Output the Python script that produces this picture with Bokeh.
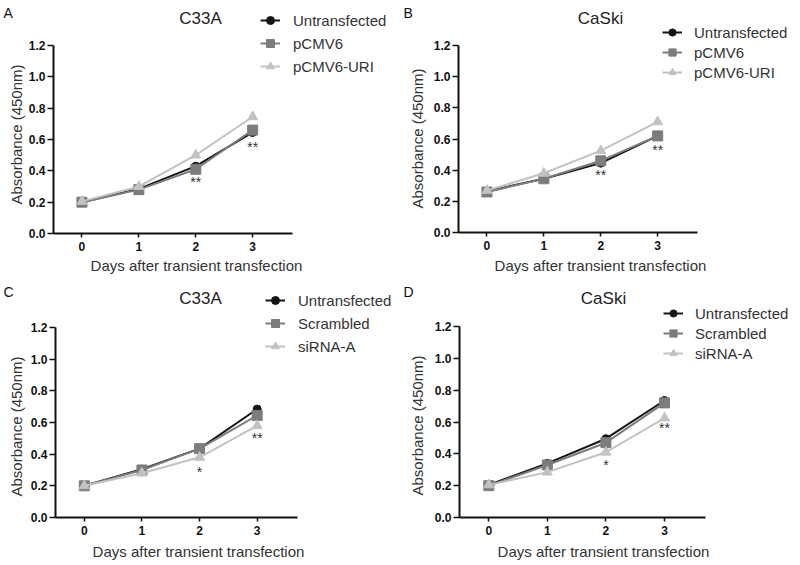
import math
from bokeh.plotting import figure
from bokeh.layouts import gridplot
from bokeh.models import (Label, Legend, LegendItem, ColumnDataSource, FixedTicker,
                          Range1d, CustomJSTickFormatter)
from bokeh.embed import file_html
from bokeh.resources import INLINE
from bokeh.core.properties import value

FONT = "Liberation Sans"

days = [0, 1, 2, 3]
x_ticks = [0, 1, 2, 3]
y_ticks = [0.0, 0.2, 0.4, 0.6, 0.8, 1.0, 1.2]
X_BOUNDS = (-0.5, 3.7)
Y_BOUNDS = (0.0, 1.2)
x_axis_label = "Days after transient transfection"
y_axis_label = "Absorbance (450nm)"

# Panel A: C33A, overexpression
a_labels = ["Untransfected", "pCMV6", "pCMV6-URI"]
a_untransfected = [0.20, 0.285, 0.43, 0.645]
a_pcmv6 = [0.20, 0.28, 0.41, 0.66]
a_pcmv6_uri = [0.205, 0.30, 0.50, 0.745]
a_star_x = [2, 3]
a_star_y = [0.33, 0.55]
a_star_text = ["**", "**"]

# Panel B: CaSki, overexpression
b_labels = ["Untransfected", "pCMV6", "pCMV6-URI"]
b_untransfected = [0.265, 0.345, 0.445, 0.62]
b_pcmv6 = [0.26, 0.345, 0.46, 0.62]
b_pcmv6_uri = [0.27, 0.38, 0.525, 0.71]
b_star_x = [2, 3]
b_star_y = [0.37, 0.53]
b_star_text = ["**", "**"]

# Panel C: C33A, knockdown
c_labels = ["Untransfected", "Scrambled", "siRNA-A"]
c_untransfected = [0.20, 0.305, 0.435, 0.685]
c_scrambled = [0.20, 0.30, 0.435, 0.645]
c_sirna = [0.20, 0.28, 0.38, 0.58]
c_star_x = [2, 3]
c_star_y = [0.29, 0.50]
c_star_text = ["*", "**"]

# Panel D: CaSki, knockdown
d_labels = ["Untransfected", "Scrambled", "siRNA-A"]
d_untransfected = [0.205, 0.34, 0.495, 0.735]
d_scrambled = [0.20, 0.33, 0.47, 0.72]
d_sirna = [0.205, 0.285, 0.41, 0.625]
d_star_x = [2, 3]
d_star_y = [0.33, 0.56]
d_star_text = ["*", "**"]

COLORS = ["#141414", "#7c7c7c", "#c2c2c2"]
MARKERS = ["circle", "square", "triangle"]
SIZES = [8, 10, 10]


def make_panel(letter, title, labels, series, star_x, star_y, star_text, geo):
    W, H = geo["size"]
    axL, axR, yT, yB = geo["frame"]
    # pixel geometry -> range ends, so that axis bounds land where they should
    ux = (axR - axL) / (X_BOUNDS[1] - X_BOUNDS[0])
    uy = (yB - yT) / (Y_BOUNDS[1] - Y_BOUNDS[0])
    xr = Range1d(X_BOUNDS[0] - axL / ux, X_BOUNDS[0] + (W - axL) / ux)
    yr = Range1d(Y_BOUNDS[0] - (H - yB) / uy, Y_BOUNDS[1] + yT / uy)

    p = figure(width=W, height=H, output_backend="svg", toolbar_location=None,
               x_range=xr, y_range=yr, title=None,
               min_border_left=0, min_border_right=0,
               min_border_top=0, min_border_bottom=0)
    p.outline_line_color = None
    p.xgrid.visible = False
    p.ygrid.visible = False
    p.background_fill_color = "white"

    for ax in (p.xaxis[0], p.yaxis[0]):
        ax.axis_line_width = 2
        ax.axis_line_color = "#111111"
        ax.major_tick_line_color = "#111111"
        ax.major_tick_line_width = 1.5
        ax.major_tick_in = 0
        ax.minor_tick_line_color = None
        ax.major_label_text_font = FONT
        ax.major_label_text_font_style = "bold"
        ax.major_label_text_font_size = "12px"
        ax.major_label_text_color = "#111111"

    p.xaxis.fixed_location = Y_BOUNDS[0]
    p.yaxis.fixed_location = X_BOUNDS[0]
    p.xaxis.bounds = X_BOUNDS
    p.yaxis.bounds = Y_BOUNDS
    p.xaxis.ticker = FixedTicker(ticks=x_ticks)
    p.yaxis.ticker = FixedTicker(ticks=y_ticks)
    p.yaxis.formatter = CustomJSTickFormatter(code="return tick.toFixed(1);")
    p.xaxis.major_tick_out = 4
    p.xaxis.major_label_standoff = 4
    p.yaxis.major_tick_out = 6
    p.yaxis.major_label_standoff = 2

    items = []
    for i, (lab, vals) in enumerate(zip(labels, series)):
        src = ColumnDataSource(dict(x=days, y=vals))
        r1 = p.line("x", "y", source=src, line_color=COLORS[i], line_width=2)
        r2 = p.scatter("x", "y", source=src, marker=MARKERS[i], size=SIZES[i],
                       fill_color=COLORS[i], line_color=COLORS[i])
        items.append(LegendItem(label=lab, renderers=[r1, r2]))

    ssrc = ColumnDataSource(dict(x=star_x, y=star_y, t=star_text))
    p.text("x", "y", text="t", source=ssrc, text_font=value(FONT),
           text_font_size="14px", text_color="#333333",
           text_align="center", text_baseline="middle")

    lx, ltop, lh, sp, st = geo["legend"]
    leg_h = 3 * lh + 2 * sp
    legend = Legend(items=items, location=(lx, H - ltop - leg_h), padding=0, margin=0,
                    border_line_color=None, background_fill_alpha=0,
                    label_text_font=FONT, label_text_font_size="15px",
                    label_text_color="#333333",
                    glyph_width=20, glyph_height=lh, label_height=lh,
                    label_standoff=st, spacing=sp)
    p.add_layout(legend)

    tx, ty = geo["title"]
    p.add_layout(Label(x=tx, y=H - ty, x_units="screen", y_units="screen",
                       text=title, text_font=FONT, text_font_size="17px",
                       text_color="#222222", text_align="center",
                       text_baseline="middle"))
    lx_, ly_ = geo["letter"]
    p.add_layout(Label(x=lx_, y=H - ly_, x_units="screen", y_units="screen",
                       text=letter, text_font=FONT, text_font_size="14px",
                       text_color="#111111", text_align="left",
                       text_baseline="top"))
    xx, xy = geo["xlabel"]
    p.add_layout(Label(x=xx, y=H - xy, x_units="screen", y_units="screen",
                       text=x_axis_label, text_font=FONT, text_font_size="15px",
                       text_color="#333333", text_align="center",
                       text_baseline="middle"))
    yx, yy = geo["ylabel"]
    p.add_layout(Label(x=yx, y=H - yy, x_units="screen", y_units="screen",
                       text=y_axis_label, text_font=FONT, text_font_size="15px",
                       text_color="#333333", text_align="center",
                       text_baseline="middle", angle=math.pi / 2))
    return p


# geometry in each figure's own pixels (top-left origin)
geo_a = dict(size=(400, 282), frame=(53, 292, 45, 233), legend=(260, 10, 20, 3, 13),
             title=(200, 18), letter=(3, 4), xlabel=(196, 265), ylabel=(16, 134))
geo_b = dict(size=(392, 282), frame=(58, 297, 45, 232), legend=(262, 23, 18, 2, 12),
             title=(200, 18), letter=(3, 4), xlabel=(200, 265), ylabel=(17, 138))
geo_c = dict(size=(400, 279), frame=(55, 297, 45, 235), legend=(265, 8, 20, 3, 13),
             title=(200, 16), letter=(3, 1), xlabel=(198, 269), ylabel=(16, 144))
geo_d = dict(size=(392, 279), frame=(59, 305, 44, 235), legend=(263, 22, 18, 2, 12),
             title=(203, 16), letter=(3, 1), xlabel=(203, 269), ylabel=(17, 143))

pA = make_panel("A", "C33A", a_labels, [a_untransfected, a_pcmv6, a_pcmv6_uri],
                a_star_x, a_star_y, a_star_text, geo_a)
pB = make_panel("B", "CaSki", b_labels, [b_untransfected, b_pcmv6, b_pcmv6_uri],
                b_star_x, b_star_y, b_star_text, geo_b)
pC = make_panel("C", "C33A", c_labels, [c_untransfected, c_scrambled, c_sirna],
                c_star_x, c_star_y, c_star_text, geo_c)
pD = make_panel("D", "CaSki", d_labels, [d_untransfected, d_scrambled, d_sirna],
                d_star_x, d_star_y, d_star_text, geo_d)

grid = gridplot([[pA, pB], [pC, pD]], toolbar_location=None)
open("out.html", "w").write(file_html(grid, INLINE))
